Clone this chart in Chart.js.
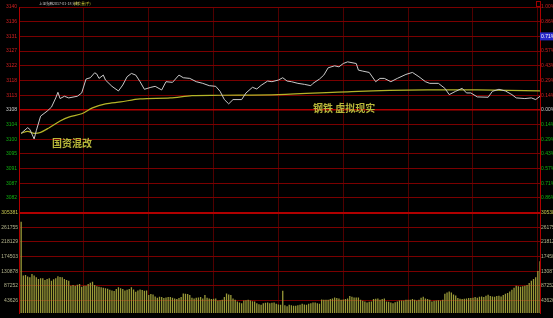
<!DOCTYPE html>
<html>
<head>
<meta charset="utf-8">
<script src="https://cdn.jsdelivr.net/npm/chart.js"></script>
<style>
  html, body { margin: 0; padding: 0; background: #000; }
  #wrap { position: relative; width: 553px; height: 318px; overflow: hidden; }
  canvas { display: block; }
  .hdr { position: absolute; top: 1px; font: 3.6px "Noto Sans CJK SC", sans-serif; color: #c8c8c8; white-space: nowrap; line-height: 5px; }
  .tag { position: absolute; font: bold 10px "Noto Sans CJK SC", sans-serif; color: #b8b83a; white-space: nowrap; line-height: 12px; }
  #icon { position: absolute; left: 536px; top: 1px; width: 3px; height: 4px; border: 1px solid #a00000; }
</style>
</head>
<body>
<div id="wrap">
  <canvas id="chart" width="553" height="318"></canvas>
  <div class="hdr" style="left:39px">上证指数</div>
  <div class="hdr" style="left:53px">2017-01-18 分时</div>
  <div class="hdr" style="left:74px;color:#c8c832">成交量(手)</div>
  <div class="tag" style="left:52px;top:137px">国资混改</div>
  <div class="tag" style="left:313px;top:102px">钢铁 虚拟现实</div>
  <div id="icon"></div>
</div>
<script>
// 分时图 上证指数 2017-01-18

const preClose = 3108.6;
const priceStep = 4.44;   // 每格价格

// 左轴价格刻度 (上 -> 下)
const priceLabels = ['3140', '3136', '3131', '3127', '3122', '3118', '3113', '3108',
                     '3104', '3100', '3095', '3091', '3087', '3082'];
// 右轴涨跌幅刻度 (上 -> 下)
const pctLabels = ['1.00%', '0.86%', '0.71%', '0.57%', '0.43%', '0.29%', '0.14%', '0.00%',
                   '0.14%', '0.29%', '0.43%', '0.57%', '0.71%', '0.86%'];
// 成交量刻度 (上 -> 下)
const volStep = 43626;
const volLabels = ['305381', '261755', '218129', '174503', '130878', '87252', '43626'];

// 分时价格 [分钟, 价格]
const priceMinutes = [0, 3, 4, 6, 7, 9, 12, 14, 16, 17, 18, 20, 22, 26, 28, 30, 32, 34, 35, 36,
  38, 39, 42, 45, 47, 49, 51, 53, 55, 57, 60, 62, 65, 67, 70, 73, 75, 78, 81, 84,
  87, 90, 92, 94, 96, 98, 102, 104, 107, 109, 111, 114, 116, 119, 121, 123, 125, 128, 131, 134,
  135, 138, 140, 142, 145, 147, 149, 151, 155, 156, 158, 161, 164, 166, 168, 171, 174, 178, 181, 184,
  187, 189, 193, 196, 198, 201, 204, 206, 208, 211, 216, 218, 221, 224, 227, 229, 233, 236, 238, 240];
const priceValues = [3101.5, 3103.2, 3102.7, 3099.8, 3102.3, 3106.7, 3108.2, 3109.4, 3112.2, 3113.9,
  3112.0, 3112.7, 3112.2, 3112.7, 3113.7, 3117.9, 3118.3, 3119.8, 3119.4, 3118.1,
  3119.1, 3117.6, 3115.7, 3114.3, 3116.1, 3118.6, 3119.6, 3119.1, 3117.1, 3114.8,
  3115.4, 3115.7, 3114.6, 3117.1, 3116.9, 3119.1, 3118.3, 3118.1, 3117.1, 3116.6,
  3115.9, 3115.7, 3114.2, 3111.7, 3110.4, 3111.7, 3111.7, 3113.7, 3115.4, 3114.9,
  3116.0, 3117.3, 3117.1, 3117.6, 3118.3, 3117.3, 3117.1, 3116.6, 3116.3, 3115.9,
  3116.6, 3117.9, 3119.1, 3121.3, 3121.9, 3121.6, 3122.6, 3123.1, 3122.6, 3120.6,
  3120.3, 3119.9, 3117.1, 3118.1, 3118.1, 3117.1, 3118.1, 3119.3, 3119.9, 3118.6,
  3117.1, 3116.6, 3116.6, 3115.1, 3113.2, 3114.2, 3115.1, 3113.7, 3113.7, 3112.5,
  3112.4, 3114.2, 3114.8, 3114.3, 3113.2, 3112.2, 3112.0, 3112.2, 3111.7, 3112.7];

// 均价线
const avgMinutes = [0, 3, 6, 9, 13, 18, 22, 28, 33, 39, 46, 55, 69, 79, 92, 119, 156, 188, 211, 240];
const avgValues = [3101.5, 3102.1, 3101.5, 3101.8, 3103.2, 3105.2, 3106.4, 3107.4, 3109.2, 3110.4,
  3111.0, 3111.9, 3112.2, 3112.9, 3113.0, 3113.2, 3114.2, 3114.6, 3114.6, 3114.3];

// 每分钟成交量 (千手), 0..240
const volumes = [
  278, 118, 120, 115, 113, 123, 118, 113, 108, 110,
  110, 105, 108, 110, 103, 107, 110, 116, 114, 113,
  108, 105, 103, 88, 90, 88, 91, 93, 85, 88,
  88, 93, 97, 100, 90, 86, 85, 83, 82, 80,
  79, 76, 74, 72, 78, 83, 80, 78, 74, 76,
  78, 83, 77, 70, 74, 77, 75, 73, 74, 60,
  63, 62, 56, 52, 55, 54, 51, 53, 54, 54,
  52, 50, 48, 51, 54, 65, 64, 63, 60, 52,
  50, 52, 53, 54, 50, 60, 52, 50, 48, 49,
  50, 44, 45, 46, 54, 65, 62, 60, 50, 46,
  41, 38, 36, 44, 45, 46, 44, 42, 41, 36,
  33, 31, 36, 37, 38, 36, 37, 38, 34, 32,
  31, 73, 30, 27, 31, 30, 28, 28, 30, 31,
  34, 32, 31, 34, 36, 38, 38, 36, 34, 47,
  46, 46, 46, 48, 50, 53, 51, 50, 46, 47,
  48, 50, 57, 55, 53, 53, 53, 46, 43, 41,
  38, 40, 41, 48, 49, 50, 46, 48, 50, 41,
  40, 38, 36, 39, 41, 44, 44, 44, 46, 46,
  46, 48, 46, 44, 46, 52, 55, 50, 48, 46,
  41, 43, 44, 45, 44, 46, 64, 68, 71, 68,
  62, 59, 51, 49, 48, 49, 50, 51, 51, 52,
  54, 52, 55, 56, 54, 58, 61, 57, 56, 55,
  57, 58, 56, 60, 64, 66, 71, 76, 82, 88,
  86, 85, 86, 88, 90, 96, 103, 108, 113, 132,
  161
];

const RED = '#d02020', GREEN = '#10b010', WHITE = '#d0d0d0', VOLTXT = '#b4b48c';
const GRID = '#7a0000', GRID_HI = '#b00000', GRID_V = '#500000';
const tickFont = { family: 'Liberation Sans', size: 5 };
const edge = { display: true, color: GRID_HI, width: 1 };

const xMin = -1, xMax = 240;

function priceTicks(scale) {
    const t = [];
    for (let k = -7; k <= 7; k++) t.push({ value: preClose + k * priceStep });
    scale.ticks = t;
}
function volTicks(scale) {
    const t = [];
    for (let j = 1; j <= 7; j++) t.push({ value: volStep * j });
    scale.ticks = t;
}
// 半小时竖线 (不含两端)
function minuteTicks(scale) {
    const t = [];
    for (let m = xMin + 30; m < xMax; m += 30) t.push({ value: m });
    scale.ticks = t;
}
// index 0 = 最底 (k=-7)
const kOf = i => i - 7;
function priceColor(ctx) {
    const k = kOf(ctx.index);
    return k > 0 ? RED : (k === 0 ? WHITE : GREEN);
}

const priceMin = preClose - 7 * priceStep;
const priceMax = preClose + 7 * priceStep;

new Chart(document.getElementById('chart'), {
    type: 'bar',
    data: {
        datasets: [
            {
                type: 'line',
                data: priceMinutes.map((m, i) => ({ x: m, y: priceValues[i] })),
                xAxisID: 'x', yAxisID: 'yP',
                borderColor: '#c8c8c8', borderWidth: 1, pointRadius: 0, tension: 0
            },
            {
                type: 'line',
                data: avgMinutes.map((m, i) => ({ x: m, y: avgValues[i] })),
                xAxisID: 'x', yAxisID: 'yP',
                borderColor: '#b4b428', borderWidth: 1.2, pointRadius: 0, tension: 0.3
            },
            {
                type: 'bar',
                data: volumes.map((v, i) => ({ x: i, y: v * 1000 })),
                xAxisID: 'x', yAxisID: 'yV',
                backgroundColor: '#9a9a38',
                barPercentage: 0.6, categoryPercentage: 1
            }
        ]
    },
    options: {
        responsive: false,
        animation: false,
        devicePixelRatio: 1,
        layout: { padding: { top: 7, bottom: 0, left: 0, right: 0 } },
        plugins: { legend: { display: false }, tooltip: { enabled: false } },
        scales: {
            x: {
                type: 'linear', min: xMin, max: xMax,
                offset: false,
                afterBuildTicks: minuteTicks,
                ticks: { display: false },
                border: { display: false },
                grid: { offset: false, drawTicks: false, color: GRID_V, lineWidth: 1 },
                afterFit: s => { s.height = 0; }
            },
            // 左侧: 成交量轴先定义, 堆叠时在下方
            yV: {
                type: 'linear', position: 'left', stack: 'L', stackWeight: 102,
                min: 6700, max: volStep * 7,
                afterBuildTicks: volTicks,
                border: edge,
                grid: {
                    drawTicks: false,
                    color: ctx => ctx.index === 6 ? GRID_HI : GRID,
                    lineWidth: ctx => ctx.index === 6 ? 2 : 1
                },
                ticks: {
                    autoSkip: false, padding: 1, font: tickFont,
                    color: ctx => ctx.index === 6 ? '#c8c850' : VOLTXT,
                    callback: (v, i) => volLabels[6 - i]
                },
                afterFit: s => { s.width = 19; }
            },
            yP: {
                type: 'linear', position: 'left', stack: 'L', stackWeight: 209,
                min: priceMin, max: priceMax,
                afterBuildTicks: priceTicks,
                border: edge,
                grid: {
                    drawTicks: false,
                    color: ctx => (ctx.index === 7 || ctx.index === 0) ? GRID_HI : GRID,
                    lineWidth: ctx => ctx.index === 0 ? 2 : (ctx.index === 7 ? 1.5 : 1)
                },
                ticks: {
                    autoSkip: false, padding: 2, font: tickFont,
                    color: priceColor,
                    callback: (v, i) => i === 0 ? '' : priceLabels[7 - kOf(i)]
                },
                afterFit: s => { s.width = 19; }
            },
            // 右侧: 价格轴先定义
            yPR: {
                type: 'linear', position: 'right', stack: 'R', stackWeight: 209,
                min: priceMin, max: priceMax,
                afterBuildTicks: priceTicks,
                border: edge,
                grid: { display: false, drawTicks: false },
                ticks: {
                    autoSkip: false, padding: 1, font: tickFont,
                    color: ctx => kOf(ctx.index) === 5 ? '#ffffff' : priceColor(ctx),
                    showLabelBackdrop: ctx => kOf(ctx.index) === 5,
                    backdropColor: '#2828c8',
                    backdropPadding: 1,
                    callback: (v, i) => i === 0 ? '' : pctLabels[7 - kOf(i)]
                },
                afterFit: s => { s.width = 13; }
            },
            yVR: {
                type: 'linear', position: 'right', stack: 'R', stackWeight: 102,
                min: 6700, max: volStep * 7,
                afterBuildTicks: volTicks,
                border: edge,
                grid: { display: false, drawTicks: false },
                ticks: {
                    autoSkip: false, padding: 1, font: tickFont,
                    color: ctx => ctx.index === 6 ? '#c8c850' : VOLTXT,
                    callback: (v, i) => volLabels[6 - i]
                },
                afterFit: s => { s.width = 13; }
            }
        }
    }
});
</script>
</body>
</html>
